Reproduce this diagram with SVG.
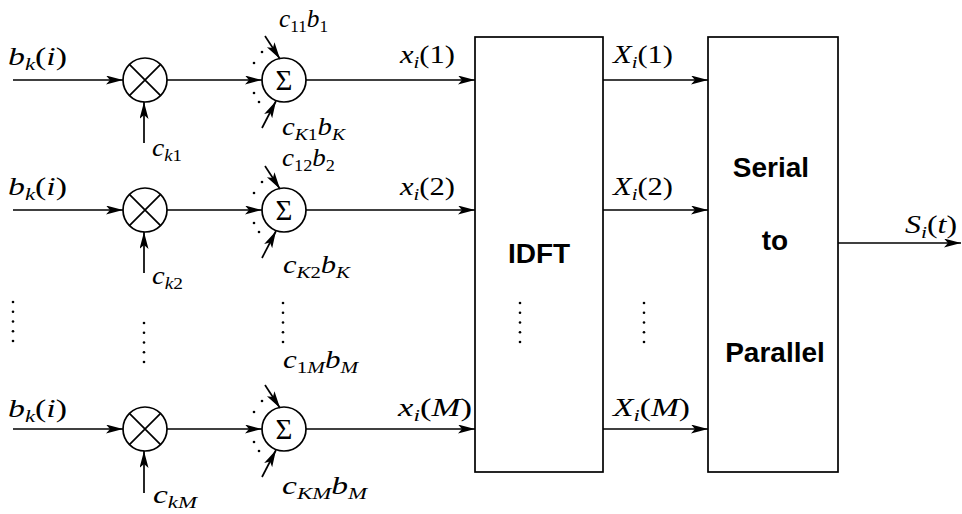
<svg xmlns="http://www.w3.org/2000/svg" width="962" height="514" viewBox="0 0 962 514">
<style>
  .ln { fill: none; stroke: #000; stroke-width: 1.7; }
  .nd { fill: #fff; stroke: #000; stroke-width: 1.7; }
  .dot { fill: #000; }
  .t { font-family: "Liberation Serif", "Times New Roman", serif; font-size: 25px; fill: #000; }
  .i { font-style: italic; }
  .s { font-size: 17px; font-style: italic; }
  .su { font-size: 17px; font-style: normal; }
  .sig { font-family: "Liberation Serif", "Times New Roman", serif; font-size: 29px; text-anchor: middle; fill: #000; }
  .b { font-family: "Liberation Sans", Arial, sans-serif; font-weight: bold; font-size: 28px; text-anchor: middle; fill: #000; }
</style>
<defs>
  <marker id="ah" markerUnits="userSpaceOnUse" markerWidth="20" markerHeight="12" refX="17" refY="4.5" orient="auto">
    <path d="M0,0 L17,4.5 L0,9 L4,4.5 Z" fill="#000"/>
  </marker>
  <g id="dots5">
    <circle cx="0" cy="0" r="1.3"/>
    <circle cx="0" cy="9.75" r="1.3"/>
    <circle cx="0" cy="19.5" r="1.3"/>
    <circle cx="0" cy="29.25" r="1.3"/>
    <circle cx="0" cy="39" r="1.3"/>
  </g>
</defs>

<!-- blocks -->
<g id="idft">
  <rect class="nd" x="475" y="37" width="128" height="435"/>
  <text class="b" x="539" y="263">IDFT</text>
  <use href="#dots5" x="520" y="303" class="dot"/>
</g>
<g id="s2p">
  <rect class="nd" x="708" y="37" width="130" height="435"/>
  <text class="b" x="771" y="177">Serial</text>
  <text class="b" x="775" y="250">to</text>
  <text class="b" x="775" y="362">Parallel</text>
</g>

<!-- multipliers -->
<g id="mult1">
  <circle class="nd" cx="145" cy="80" r="22"/>
  <path class="ln" d="M129.4,64.4 L160.6,95.6 M160.6,64.4 L129.4,95.6"/>
</g>
<g id="mult2">
  <circle class="nd" cx="145" cy="210" r="22"/>
  <path class="ln" d="M129.4,194.4 L160.6,225.6 M160.6,194.4 L129.4,225.6"/>
</g>
<g id="multM">
  <circle class="nd" cx="145" cy="429" r="22"/>
  <path class="ln" d="M129.4,413.4 L160.6,444.6 M160.6,413.4 L129.4,444.6"/>
</g>

<!-- summers -->
<g id="sum1">
  <circle class="nd" cx="284" cy="80" r="22"/>
  <text class="sig" x="284" y="90">Σ</text>
  <g class="dot">
    <circle cx="262" cy="52" r="1.3"/><circle cx="254" cy="63" r="1.3"/>
    <circle cx="254" cy="93" r="1.3"/><circle cx="259" cy="102" r="1.3"/>
  </g>
</g>
<g id="sum2">
  <circle class="nd" cx="284" cy="210" r="22"/>
  <text class="sig" x="284" y="220">Σ</text>
  <g class="dot">
    <circle cx="262" cy="182" r="1.3"/><circle cx="254" cy="193" r="1.3"/>
    <circle cx="254" cy="223" r="1.3"/><circle cx="259" cy="232" r="1.3"/>
  </g>
</g>
<g id="sumM">
  <circle class="nd" cx="284" cy="429" r="22"/>
  <text class="sig" x="284" y="439">Σ</text>
  <g class="dot">
    <circle cx="262" cy="401" r="1.3"/><circle cx="254" cy="412" r="1.3"/>
    <circle cx="254" cy="442" r="1.3"/><circle cx="259" cy="451" r="1.3"/>
  </g>
</g>

<!-- vertical ellipses between rows -->
<g id="ellipses" class="dot">
  <use href="#dots5" x="13" y="302"/>
  <use href="#dots5" x="144" y="323"/>
  <use href="#dots5" x="283" y="303"/>
  <use href="#dots5" x="644" y="303"/>
</g>

<!-- connectors -->
<g id="connectors" class="ln" marker-end="url(#ah)">
  <path d="M13,80 H123"/>
  <path d="M144,143 V102"/>
  <path d="M167,80 H262"/>
  <path d="M265,36 L280,59"/>
  <path d="M262,128 L276,101"/>
  <path d="M306,80 H475"/>
  <path d="M603,80 H708"/>

  <path d="M13,210 H123"/>
  <path d="M144,273 V232"/>
  <path d="M167,210 H262"/>
  <path d="M265,166 L280,189"/>
  <path d="M262,258 L276,231"/>
  <path d="M306,210 H475"/>
  <path d="M603,210 H708"/>

  <path d="M13,429 H123"/>
  <path d="M144,493 V451"/>
  <path d="M167,429 H262"/>
  <path d="M265,385 L280,408"/>
  <path d="M262,477 L276,450"/>
  <path d="M306,429 H475"/>
  <path d="M603,429 H708"/>

  <path d="M838,243 H961"/>
</g>

<!-- labels -->
<g id="labels" class="t">
  <text x="8" y="65" textLength="59" lengthAdjust="spacingAndGlyphs"><tspan class="i">b</tspan><tspan class="s" dy="5">k</tspan><tspan dy="-5">(</tspan><tspan class="i">i</tspan>)</text>
  <text x="8" y="195" textLength="59" lengthAdjust="spacingAndGlyphs"><tspan class="i">b</tspan><tspan class="s" dy="5">k</tspan><tspan dy="-5">(</tspan><tspan class="i">i</tspan>)</text>
  <text x="8" y="417" textLength="59" lengthAdjust="spacingAndGlyphs"><tspan class="i">b</tspan><tspan class="s" dy="5">k</tspan><tspan dy="-5">(</tspan><tspan class="i">i</tspan>)</text>

  <text x="152" y="156" textLength="30" lengthAdjust="spacingAndGlyphs"><tspan class="i">c</tspan><tspan class="s" dy="5">k</tspan><tspan class="su">1</tspan></text>
  <text x="152" y="284" textLength="31" lengthAdjust="spacingAndGlyphs"><tspan class="i">c</tspan><tspan class="s" dy="5">k</tspan><tspan class="su">2</tspan></text>
  <text x="153" y="503" textLength="44" lengthAdjust="spacingAndGlyphs"><tspan class="i">c</tspan><tspan class="s" dy="5">kM</tspan></text>

  <text x="279" y="27" textLength="49" lengthAdjust="spacingAndGlyphs"><tspan class="i">c</tspan><tspan class="su" dy="5">11</tspan><tspan class="i" dy="-5">b</tspan><tspan class="su" dy="5">1</tspan></text>
  <text x="282" y="135" textLength="63" lengthAdjust="spacingAndGlyphs"><tspan class="i">c</tspan><tspan class="s" dy="5">K</tspan><tspan class="su">1</tspan><tspan class="i" dy="-5">b</tspan><tspan class="s" dy="5">K</tspan></text>

  <text x="282" y="166" textLength="53" lengthAdjust="spacingAndGlyphs"><tspan class="i">c</tspan><tspan class="su" dy="5">12</tspan><tspan class="i" dy="-5">b</tspan><tspan class="su" dy="5">2</tspan></text>
  <text x="283" y="273" textLength="67" lengthAdjust="spacingAndGlyphs"><tspan class="i">c</tspan><tspan class="s" dy="5">K</tspan><tspan class="su">2</tspan><tspan class="i" dy="-5">b</tspan><tspan class="s" dy="5">K</tspan></text>

  <text x="283" y="368" textLength="75" lengthAdjust="spacingAndGlyphs"><tspan class="i">c</tspan><tspan class="su" dy="5">1</tspan><tspan class="s">M</tspan><tspan class="i" dy="-5">b</tspan><tspan class="s" dy="5">M</tspan></text>
  <text x="282" y="494" textLength="85" lengthAdjust="spacingAndGlyphs"><tspan class="i">c</tspan><tspan class="s" dy="5">KM</tspan><tspan class="i" dy="-5">b</tspan><tspan class="s" dy="5">M</tspan></text>

  <text x="400" y="63" textLength="55" lengthAdjust="spacingAndGlyphs"><tspan class="i">x</tspan><tspan class="s" dy="5">i</tspan><tspan dy="-5">(1)</tspan></text>
  <text x="400" y="195" textLength="55" lengthAdjust="spacingAndGlyphs"><tspan class="i">x</tspan><tspan class="s" dy="5">i</tspan><tspan dy="-5">(2)</tspan></text>
  <text x="398" y="416" textLength="74" lengthAdjust="spacingAndGlyphs"><tspan class="i">x</tspan><tspan class="s" dy="5">i</tspan><tspan dy="-5">(</tspan><tspan class="i">M</tspan>)</text>

  <text x="613" y="63" textLength="60" lengthAdjust="spacingAndGlyphs"><tspan class="i">X</tspan><tspan class="s" dy="5">i</tspan><tspan dy="-5">(1)</tspan></text>
  <text x="613" y="195" textLength="60" lengthAdjust="spacingAndGlyphs"><tspan class="i">X</tspan><tspan class="s" dy="5">i</tspan><tspan dy="-5">(2)</tspan></text>
  <text x="613" y="416" textLength="77" lengthAdjust="spacingAndGlyphs"><tspan class="i">X</tspan><tspan class="s" dy="5">i</tspan><tspan dy="-5">(</tspan><tspan class="i">M</tspan>)</text>

  <text x="905" y="233" textLength="52" lengthAdjust="spacingAndGlyphs"><tspan class="i">S</tspan><tspan class="s" dy="5">i</tspan><tspan dy="-5">(</tspan><tspan class="i">t</tspan>)</text>
</g>
</svg>
